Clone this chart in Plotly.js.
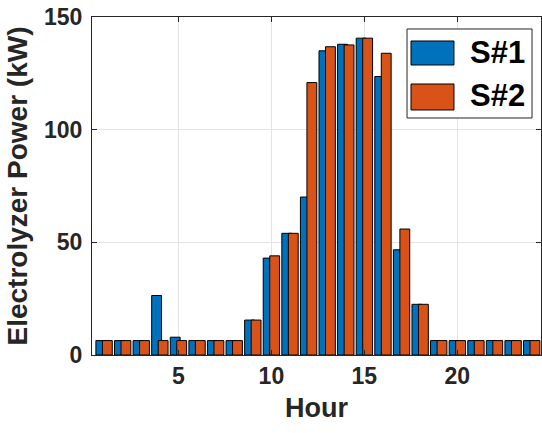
<!DOCTYPE html>
<html>
<head>
<meta charset="utf-8">
<script src="https://cdn.plot.ly/plotly-3.0.1.min.js"></script>
<style>html,body{margin:0;padding:0;background:#fff;}#chart{width:542px;height:433px;}</style>
</head>
<body>
<div id="chart"></div>
<script>
const hours = [1,2,3,4,5,6,7,8,9,10,11,12,13,14,15,16,17,18,19,20,21,22,23,24];
const s1 = [6.4,6.4,6.4,26.4,7.9,6.4,6.4,6.4,15.5,43.0,54.0,70.1,135.0,137.9,140.6,123.6,46.7,22.5,6.4,6.4,6.4,6.4,6.4,6.4];
const s2 = [6.4,6.4,6.4,6.4,6.4,6.4,6.4,6.4,15.5,44.0,54.0,120.9,136.8,137.6,140.6,133.9,55.9,22.5,6.4,6.4,6.4,6.4,6.4,6.4];
const seriesNames = ["S#1", "S#2"];
const seriesColors = ["#0072BD", "#D95319"];
const xTicks = [5, 10, 15, 20];
const yTicks = [0, 50, 100, 150];

const FONT = "Liberation Sans, Arial, Helvetica, sans-serif";
const DARK = "#262626";

const traces = [
  {type: "bar", x: hours, y: s1, name: seriesNames[0], width: 0.53, offset: -0.44,
   marker: {color: seriesColors[0], line: {color: "#000", width: 1}}, showlegend: false},
  {type: "bar", x: hours, y: s2, name: seriesNames[1], width: 0.53, offset: -0.09,
   marker: {color: seriesColors[1], line: {color: "#000", width: 1}}, showlegend: false}
];

function axisBase() {
  return {
    showgrid: true, gridcolor: "#e3e3e3", gridwidth: 1,
    showline: true, linecolor: DARK, linewidth: 1, mirror: "ticks",
    ticks: "inside", ticklen: 5, tickcolor: DARK, tickwidth: 1,
    zeroline: false,
    tickfont: {family: FONT, size: 23, color: DARK, weight: "bold"}
  };
}

const xaxis = Object.assign(axisBase(), {
  range: [0.35, 24.5], tickvals: xTicks, ticktext: xTicks.map(String),
  title: {text: "Hour", font: {family: FONT, size: 27, color: DARK, weight: "bold"}, standoff: 10}
});
const yaxis = Object.assign(axisBase(), {
  range: [0, 150], tickvals: yTicks, ticktext: yTicks.map(String),
  ticklabelstandoff: 4,
  title: {text: "Electrolyzer Power (kW)", font: {family: FONT, size: 28, color: DARK, weight: "bold"}, standoff: 8}
});

// custom legend (box, swatches, labels) in paper coordinates
const lg = {x0: 0.7016, x1: 0.980, y0: 0.7012, y1: 0.9645};
const sw = [{y0: 0.858, y1: 0.929, ty: 0.8935}, {y0: 0.7249, y1: 0.8018, ty: 0.7663}];
const shapes = [
  {type: "rect", xref: "paper", yref: "paper", x0: lg.x0, x1: lg.x1, y0: lg.y0, y1: lg.y1,
   line: {color: DARK, width: 1}, fillcolor: "#ffffff", layer: "above"}
];
const annotations = [];
seriesNames.forEach((n, i) => {
  shapes.push({type: "rect", xref: "paper", yref: "paper", x0: 0.7105, x1: 0.8062,
    y0: sw[i].y0, y1: sw[i].y1, line: {color: "#000", width: 1}, fillcolor: seriesColors[i], layer: "above"});
  annotations.push({xref: "paper", yref: "paper", x: 0.8374, y: sw[i].ty, xanchor: "left", yanchor: "middle",
    text: n, showarrow: false, font: {family: FONT, size: 31, color: "#000", weight: "bold"}});
});

const layout = {
  width: 542, height: 433,
  margin: {l: 92, r: 1, t: 17, b: 78, pad: 0},
  paper_bgcolor: "#ffffff", plot_bgcolor: "#ffffff",
  barmode: "overlay",
  xaxis: xaxis, yaxis: yaxis,
  showlegend: false,
  shapes: shapes, annotations: annotations,
  font: {family: FONT, color: DARK}
};

Plotly.newPlot("chart", traces, layout, {displayModeBar: false, staticPlot: true});
</script>
</body>
</html>
